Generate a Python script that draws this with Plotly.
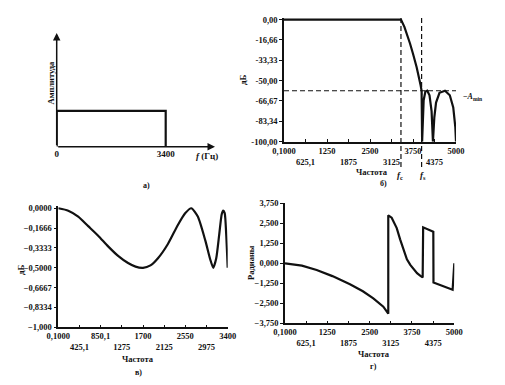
import plotly.graph_objects as go

# ---------------- data ----------------
# a) ideal amplitude spectrum
spec_f = [0, 0, 3400, 3400]
spec_a = [0, 1, 1, 0]

# b) magnitude response, dB
mag_f = [0.1, 1000, 2000, 3000, 3400, 3500, 3600, 3663, 3750, 3856, 3970, 4000, 4015,
         4030, 4060, 4110, 4165, 4230, 4290, 4330,
         4370, 4420, 4520, 4680, 4820, 4920, 4980, 5000]
mag_db = [0, 0, 0, 0, 0, -6, -14, -19.6, -28, -39, -53.6, -58.3, -100,
          -80, -66, -59, -58.3, -62, -75, -100,
          -80, -68, -60, -58.3, -62, -72, -88, -100]
f_c = 3400
f_s = 4000
a_min = -58.3

# c) passband ripple, dB
pb_f = [0.1, 200, 400, 600, 800, 1000, 1200, 1400, 1550, 1700, 1850, 2000, 2200, 2400,
        2550, 2670, 2800, 2950, 3050, 3110, 3170, 3230, 3280, 3310, 3340, 3370, 3400]
pb_db = [0, -0.02, -0.07, -0.15, -0.23, -0.32, -0.40, -0.46, -0.49, -0.5, -0.48, -0.42, -0.30, -0.14,
         -0.04, 0, -0.07, -0.27, -0.43, -0.5, -0.42, -0.22, -0.05, -0.02, -0.04, -0.22, -0.5]

# d) phase response, radians
ph_f = [0.1, 500, 935, 1400, 1919, 2300, 2608, 2904, 3050, 3050, 3150, 3300, 3400, 3500, 3600,
        3700, 3800, 3900, 4000, 4066, 4080, 4380, 4385, 4950, 5000]
ph_rad = [0, -0.15, -0.42, -0.8, -1.31, -1.75, -2.19, -2.71, -3.15, 3.0, 2.85, 2.2, 1.5, 0.8, 0.25,
          -0.1, -0.4, -0.62, -0.78, -0.88, 2.25, 1.98, -1.2, -1.65, 0.0]

# tick labels
b_tickvals = [0.1, 625.1, 1250, 1875, 2500, 3125, 3750, 4375, 5000]
b_ticktext = ["0,1000", "<br>625,1", "1250", "<br>1875", "2500", "<br>3125", "3750", "<br>4375", "5000"]
b_yvals = [0, -16.66, -33.33, -50, -66.67, -83.34, -100]
b_ytext = ["0,00", "-16,66", "-33,33", "-50,00", "-66,67", "-83,34", "-100,00"]

c_tickvals = [0.1, 425.1, 850.1, 1275, 1700, 2125, 2550, 2975, 3400]
c_ticktext = ["0,1000", "<br>425,1", "850,1", "<br>1275", "1700", "<br>2125", "2550", "<br>2975", "3400"]
c_yvals = [0, -0.1666, -0.3333, -0.5, -0.6667, -0.8334, -1.0]
c_ytext = ["0,0000", "−0,1666", "−0,3333", "−0,5000", "−0,6667", "−0,8334", "−1,000"]

d_yvals = [3.75, 2.5, 1.25, 0, -1.25, -2.5, -3.75]
d_ytext = ["3,750", "2,500", "1,250", "0,000", "−1,250", "−2,500", "−3,750"]

# ---------------- figure ----------------
W, H = 505, 385
FONT = "Liberation Serif"
BLACK = "#111111"

def px(x):
    return x / W

def py(y):
    return 1 - y / H

fig = go.Figure()

line_style = dict(color=BLACK, width=2.2)
dash_style = dict(color=BLACK, width=1.2, dash="5px,3px")

fig.add_trace(go.Scatter(x=spec_f, y=spec_a, mode="lines", line=line_style,
                         xaxis="x", yaxis="y", showlegend=False))
fig.add_trace(go.Scatter(x=[0.1, 5000], y=[a_min, a_min], mode="lines", line=dash_style,
                         xaxis="x2", yaxis="y2", showlegend=False))
fig.add_trace(go.Scatter(x=mag_f, y=mag_db, mode="lines", line=line_style,
                         xaxis="x2", yaxis="y2", showlegend=False))
fig.add_trace(go.Scatter(x=pb_f, y=pb_db, mode="lines",
                         line=dict(color=BLACK, width=2.2, shape="spline", smoothing=0.6),
                         xaxis="x3", yaxis="y3", showlegend=False))
fig.add_trace(go.Scatter(x=ph_f, y=ph_rad, mode="lines", line=line_style,
                         xaxis="x4", yaxis="y4", showlegend=False))
# vertical dashed markers f_c, f_s on an overlay subplot sharing panel b's x scale
fig.add_trace(go.Scatter(x=[f_c, f_c], y=[0, 0.98], mode="lines", line=dash_style,
                         xaxis="x5", yaxis="y5", showlegend=False))
fig.add_trace(go.Scatter(x=[f_s, f_s], y=[0, 1], mode="lines", line=dash_style,
                         xaxis="x5", yaxis="y5", showlegend=False))

tickfont = dict(family=FONT, size=8.5, color=BLACK, weight="bold")
common_axis = dict(showgrid=False, zeroline=False, showline=True, linecolor=BLACK,
                   linewidth=1.5, tickcolor=BLACK, tickangle=0, automargin=False,
                   tickfont=tickfont, ticklen=3)

b_dom_x = [px(284), px(456)]
fig.update_layout(
    width=W, height=H,
    margin=dict(l=0, r=0, t=0, b=0, autoexpand=False),
    paper_bgcolor="white", plot_bgcolor="rgba(0,0,0,0)",
    font=dict(family=FONT, size=9, color=BLACK),
    # a)
    xaxis=dict(domain=[px(56.7), px(215)], range=[0, 4938], anchor="y",
               showgrid=False, zeroline=False, showline=False, tickangle=0, automargin=False,
               tickvals=[0, 3400], ticktext=["0", "3400"], ticks="",
               tickfont=dict(family=FONT, size=9, color=BLACK, weight="bold")),
    yaxis=dict(domain=[py(146.7), py(33)], range=[0, 3.18], anchor="x", automargin=False,
               showgrid=False, zeroline=False, showline=False, showticklabels=False, ticks=""),
    # b) (range padded slightly above 0 dB so the flat passband line is not clipped)
    xaxis2=dict(domain=b_dom_x, range=[0.1, 5000], anchor="y2",
                tickvals=b_tickvals, ticktext=b_ticktext, ticks="inside", **common_axis),
    yaxis2=dict(domain=[py(141.7), py(17.7)], range=[-100, 1.5], anchor="x2",
                tickvals=b_yvals, ticktext=b_ytext, ticks="outside", **common_axis),
    # c)
    xaxis3=dict(domain=[px(58.3), px(227.7)], range=[0.1, 3400], anchor="y3",
                tickvals=c_tickvals, ticktext=c_ticktext, ticks="inside", **common_axis),
    yaxis3=dict(domain=[py(327.3), py(205.9)], range=[-1, 0.02], anchor="x3",
                tickvals=c_yvals, ticktext=c_ytext, ticks="outside", **common_axis),
    # d)
    xaxis4=dict(domain=[px(285), px(454.3)], range=[0.1, 5000], anchor="y4",
                tickvals=b_tickvals, ticktext=b_ticktext, ticks="inside", **common_axis),
    yaxis4=dict(domain=[py(323.3), py(203.3)], range=[-3.75, 3.75], anchor="x4",
                tickvals=d_yvals, ticktext=d_ytext, ticks="outside", **common_axis),
    # overlay for f_c / f_s dashed lines
    xaxis5=dict(domain=b_dom_x, range=[0.1, 5000], anchor="y5", visible=False, automargin=False),
    yaxis5=dict(domain=[py(167), py(15)], range=[0, 1], anchor="x5", visible=False, automargin=False),
)

ann = []
# axis arrows for panel a
ann.append(dict(x=4938, y=0, ax=0, ay=0, xref="x", yref="y", axref="x", ayref="y",
                showarrow=True, arrowhead=2, arrowsize=1, arrowwidth=1.5, arrowcolor=BLACK, text=""))
ann.append(dict(x=0, y=3.18, ax=0, ay=0, xref="x", yref="y", axref="x", ayref="y",
                showarrow=True, arrowhead=2, arrowsize=1, arrowwidth=1.5, arrowcolor=BLACK, text=""))

def label(text, x, y, angle=0, size=9, xanchor="center"):
    ann.append(dict(text=text, x=px(x), y=py(y), xref="paper", yref="paper",
                    showarrow=False, textangle=angle, xanchor=xanchor, yanchor="middle",
                    font=dict(family=FONT, size=size, color=BLACK, weight="bold")))

label("Амплитуда", 50.5, 83, angle=-90, size=8.5)
label("<i>f</i> (Гц)", 207, 156)
label("а)", 146, 186, size=8)

label("дБ", 243, 80, angle=-90)
label("Частота", 372, 172, size=8.5)
label("б)", 383, 183, size=8)
label("<i>f</i><sub>c</sub>", 400, 176)
label("<i>f</i><sub>s</sub>", 423, 176)
label("−<i>A</i><sub>min</sub>", 461, 97, size=8, xanchor="left")

label("дБ", 21, 270, angle=-90)
label("Частота", 138, 359, size=8.5)
label("в)", 138, 372, size=8)

label("Радианы", 251, 263, angle=-90, size=8.5)
label("Частота", 374, 354, size=8.5)
label("г)", 373, 366, size=8)

fig.update_layout(annotations=ann)

fig.write_html("out.html", config={"displayModeBar": False},
               post_script="document.body.style.margin='0';document.body.style.padding='0';")
